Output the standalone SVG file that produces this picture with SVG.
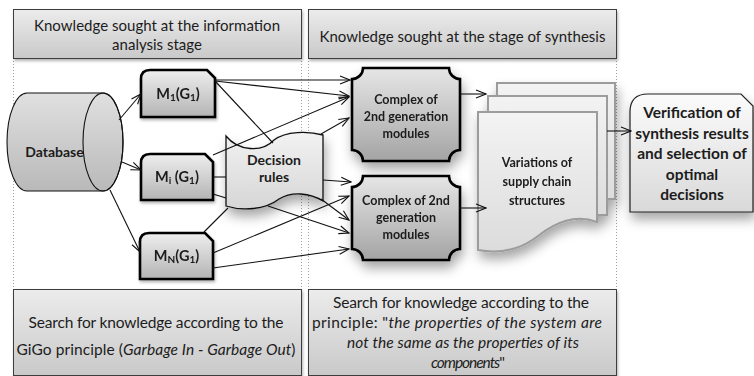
<svg xmlns="http://www.w3.org/2000/svg" width="754" height="376" viewBox="0 0 754 376">
  <defs>
    <style>
      .t { font-family: Lato, "Open Sans", "Liberation Sans", sans-serif; fill: #1c1c1c; }
      .c { text-anchor: middle; }
      .b { font-weight: bold; }
      .it { font-style: italic; }
      .panel { fill: url(#gPanel); stroke: #3c3c3c; stroke-width: 1; }
      .guide { stroke: #a0a0a0; stroke-width: 1; stroke-dasharray: 1 2; fill: none; }
      .mod { fill: url(#gMod); stroke: #000; stroke-width: 2.6; }
      .cplx { fill: url(#gCplx); stroke: #000; stroke-width: 2.6; }
      .page { fill: url(#gPage); stroke: #9c9c9c; stroke-width: 2; }
      #connectors line { stroke: #111; stroke-width: 1.1; fill: none; }
      #connectors .arr { marker-end: url(#ah); }
    </style>
    <linearGradient id="gPanel" x1="0" y1="0" x2="0" y2="1">
      <stop offset="0" stop-color="#ececec"/>
      <stop offset="1" stop-color="#c9c9c9"/>
    </linearGradient>
    <linearGradient id="gMod" x1="0" y1="0" x2="0" y2="1">
      <stop offset="0" stop-color="#eeeeee"/>
      <stop offset="1" stop-color="#b4b4b4"/>
    </linearGradient>
    <linearGradient id="gCplx" x1="0" y1="0" x2="0" y2="1">
      <stop offset="0" stop-color="#e6e6e6"/>
      <stop offset="1" stop-color="#a4a4a4"/>
    </linearGradient>
    <linearGradient id="gDb" x1="0" y1="0" x2="0" y2="1">
      <stop offset="0" stop-color="#e0e0e0"/>
      <stop offset="1" stop-color="#b9b9b9"/>
    </linearGradient>
    <linearGradient id="gRules" x1="0" y1="0" x2="0" y2="1">
      <stop offset="0" stop-color="#f2f2f2"/>
      <stop offset="1" stop-color="#d6d6d6"/>
    </linearGradient>
    <linearGradient id="gPage" x1="0" y1="0" x2="0" y2="1">
      <stop offset="0" stop-color="#f3f3f3"/>
      <stop offset="1" stop-color="#dcdcdc"/>
    </linearGradient>
    <linearGradient id="gVer" x1="0" y1="0" x2="0" y2="1">
      <stop offset="0" stop-color="#fbfbfb"/>
      <stop offset="1" stop-color="#d9d9d9"/>
    </linearGradient>
    <filter id="shadow" x="-30%" y="-30%" width="160%" height="170%">
      <feDropShadow dx="2" dy="7" stdDeviation="6" flood-color="#000" flood-opacity="0.35"/>
    </filter>
    <filter id="shadowS" x="-10%" y="-10%" width="120%" height="130%">
      <feDropShadow dx="1" dy="2" stdDeviation="1.5" flood-color="#000" flood-opacity="0.3"/>
    </filter>
    <marker id="ah" markerWidth="12" markerHeight="10" refX="11" refY="5" orient="auto" markerUnits="userSpaceOnUse">
      <path d="M1,1 L11,5 L1,9" fill="none" stroke="#111" stroke-width="1.1"/>
    </marker>
  </defs>

  <rect width="754" height="376" fill="#fff"/>

  <!-- stage separators -->
  <g id="guides">
    <line class="guide" x1="13.5" y1="58" x2="13.5" y2="289"/>
    <line class="guide" x1="301.5" y1="58" x2="301.5" y2="289"/>
    <line class="guide" x1="308.5" y1="58" x2="308.5" y2="289"/>
    <line class="guide" x1="616.5" y1="58" x2="616.5" y2="289"/>
  </g>

  <!-- stage headers -->
  <g id="header-analysis">
    <rect class="panel" x="13.5" y="9.5" width="288" height="49" filter="url(#shadowS)"/>
    <text class="t c" x="157" y="31" font-size="15" textLength="246">Knowledge sought at the information</text>
    <text class="t c" x="157" y="50" font-size="15">analysis stage</text>
  </g>
  <g id="header-synthesis">
    <rect class="panel" x="308.5" y="9.5" width="308" height="49" filter="url(#shadowS)"/>
    <text class="t c" x="462.5" y="42" font-size="15" textLength="286">Knowledge sought at the stage of synthesis</text>
  </g>

  <!-- principle panels -->
  <g id="principle-gigo">
    <rect class="panel" x="13.5" y="289.5" width="288" height="86" filter="url(#shadowS)"/>
    <text class="t c" x="156" y="328" font-size="15.5" textLength="255">Search for knowledge according to the</text>
    <text class="t c" x="156" y="355" font-size="15.5" textLength="279">GiGo principle (<tspan class="it">Garbage In - Garbage Out</tspan>)</text>
  </g>
  <g id="principle-system">
    <rect class="panel" x="308.5" y="289.5" width="308" height="86" filter="url(#shadowS)"/>
    <text class="t c" x="461" y="308" font-size="15.5" textLength="256">Search for knowledge according to the</text>
    <text class="t c" x="457" y="328" font-size="15.5" textLength="290">principle: "<tspan class="it">the properties of the system are</tspan></text>
    <text class="t c it" x="463" y="348" font-size="15.5" textLength="232">not the same as the properties of its</text>
    <text class="t c" x="468" y="368" font-size="15.5" textLength="74"><tspan class="it">components</tspan>"</text>
  </g>

  <!-- database -->
  <g id="database">
    <path d="M27,93 H103 A20,49 0 0 1 103,191 H27 A20,49 0 0 1 27,93 Z" fill="url(#gDb)" stroke="#111" stroke-width="1.1"/>
    <ellipse cx="103" cy="142" rx="20" ry="49" fill="none" stroke="#111" stroke-width="1.1"/>
    <text class="t c b" x="54.5" y="157" font-size="14">Database</text>
  </g>

  <!-- first generation modules -->
  <g id="module-1" filter="url(#shadowS)">
    <path class="mod" d="M141,117 V79 Q141,70 150,70 H207 L215,78 V117 Z"/>
    <text class="t c b" x="178" y="99" font-size="14.5">M<tspan font-size="10" dy="2">1</tspan><tspan dy="-2">(G</tspan><tspan font-size="10" dy="2">1</tspan><tspan dy="-2">)</tspan></text>
  </g>
  <g id="module-i" filter="url(#shadowS)">
    <path class="mod" d="M141,200 V163 Q141,154 150,154 H205 L213,162 V200 Z"/>
    <text class="t c b" x="177" y="182" font-size="14.5">M<tspan font-size="10" dy="2">i</tspan><tspan dy="-2"> (G</tspan><tspan font-size="10" dy="2">1</tspan><tspan dy="-2">)</tspan></text>
  </g>
  <g id="module-n" filter="url(#shadowS)">
    <path class="mod" d="M140,279 V242 Q140,233 149,233 H205 L213,241 V279 Z"/>
    <text class="t c b" x="176.5" y="261" font-size="14.5">M<tspan font-size="10" dy="2">N</tspan><tspan dy="-2">(G</tspan><tspan font-size="10" dy="2">1</tspan><tspan dy="-2">)</tspan></text>
  </g>

  <!-- decision rules (punched tape) -->
  <g id="decision-rules">
    <path d="M226,136 C238,151 262,153 274,140 C286,131 308,131 323,135 V201 C310,193 292,191 279,199 C265,210 242,211 226,206 Z" fill="url(#gRules)" stroke="#111" stroke-width="1.3" filter="url(#shadow)"/>
    <text class="t c b" x="274" y="165" font-size="14">Decision</text>
    <text class="t c b" x="274" y="182" font-size="14">rules</text>
  </g>

  <!-- second generation complexes -->
  <g id="complex-1" filter="url(#shadow)">
    <path class="cplx" d="M363,68 H449 A11,11 0 0 0 460,79 V150 A11,11 0 0 0 449,161 H363 A11,11 0 0 0 352,150 V79 A11,11 0 0 0 363,68 Z"/>
    <text class="t c b" x="406" y="104" font-size="12.5">Complex of</text>
    <text class="t c b" x="406" y="121" font-size="12.5">2nd generation</text>
    <text class="t c b" x="406" y="138" font-size="12.5">modules</text>
  </g>
  <g id="complex-2" filter="url(#shadow)">
    <path class="cplx" d="M363,176 H449 A11,11 0 0 0 460,187 V249 A11,11 0 0 0 449,260 H363 A11,11 0 0 0 352,249 V187 A11,11 0 0 0 363,176 Z"/>
    <text class="t c b" x="406" y="205" font-size="12.5">Complex of 2nd</text>
    <text class="t c b" x="406" y="222" font-size="12.5">generation</text>
    <text class="t c b" x="406" y="239" font-size="12.5">modules</text>
  </g>

  <!-- variations (document stack) -->
  <g id="variations" filter="url(#shadow)">
    <rect class="page" x="497" y="83" width="118" height="116"/>
    <rect class="page" x="488" y="96" width="119" height="119"/>
    <path class="page" d="M478,112 H597 V222 C575,214 556,222 538,236 C520,250 500,254 478,250 Z"/>
    <text class="t c b" x="537" y="167" font-size="12.5">Variations of</text>
    <text class="t c b" x="537" y="186" font-size="12.5">supply chain</text>
    <text class="t c b" x="537" y="205" font-size="12.5">structures</text>
  </g>

  <!-- verification -->
  <g id="verification">
    <path d="M630,212 V112 Q630,94 648,94 H741 L753,106 V212 Z" fill="url(#gVer)" stroke="#222" stroke-width="1.2" filter="url(#shadow)"/>
    <text class="t c b" x="692" y="118" font-size="15.5">Verification of</text>
    <text class="t c b" x="692" y="139" font-size="15.5">synthesis results</text>
    <text class="t c b" x="692" y="159" font-size="15.5">and selection of</text>
    <text class="t c b" x="692" y="180" font-size="15.5">optimal</text>
    <text class="t c b" x="692" y="200" font-size="15.5">decisions</text>
  </g>

  <!-- connectors -->
  <g id="connectors">
    <line class="arr" x1="119" y1="120" x2="141" y2="94"/>
    <line class="arr" x1="122" y1="162" x2="141" y2="170"/>
    <line class="arr" x1="110" y1="190" x2="140" y2="252"/>
    <line class="arr" x1="215" y1="80" x2="350" y2="80"/>
    <line class="arr" x1="215" y1="81" x2="349" y2="96"/>
    <line x1="215" y1="81" x2="273" y2="143"/>
    <line class="arr" x1="213" y1="155" x2="349" y2="97"/>
    <line x1="213" y1="177" x2="226" y2="177"/>
    <line x1="213" y1="194" x2="226" y2="198"/>
    <line x1="204" y1="232" x2="228" y2="208"/>
    <line class="arr" x1="321" y1="134" x2="349" y2="118"/>
    <line class="arr" x1="323" y1="180" x2="351" y2="182"/>
    <line class="arr" x1="321" y1="199" x2="349" y2="220"/>
    <line class="arr" x1="268" y1="206" x2="349" y2="233"/>
    <line class="arr" x1="213" y1="253" x2="349" y2="196"/>
    <line class="arr" x1="213" y1="268" x2="349" y2="249"/>
    <line class="arr" x1="460" y1="94" x2="486" y2="94"/>
    <line class="arr" x1="460" y1="208" x2="486" y2="208"/>
    <line class="arr" x1="607" y1="131" x2="631" y2="131"/>
  </g>
</svg>
